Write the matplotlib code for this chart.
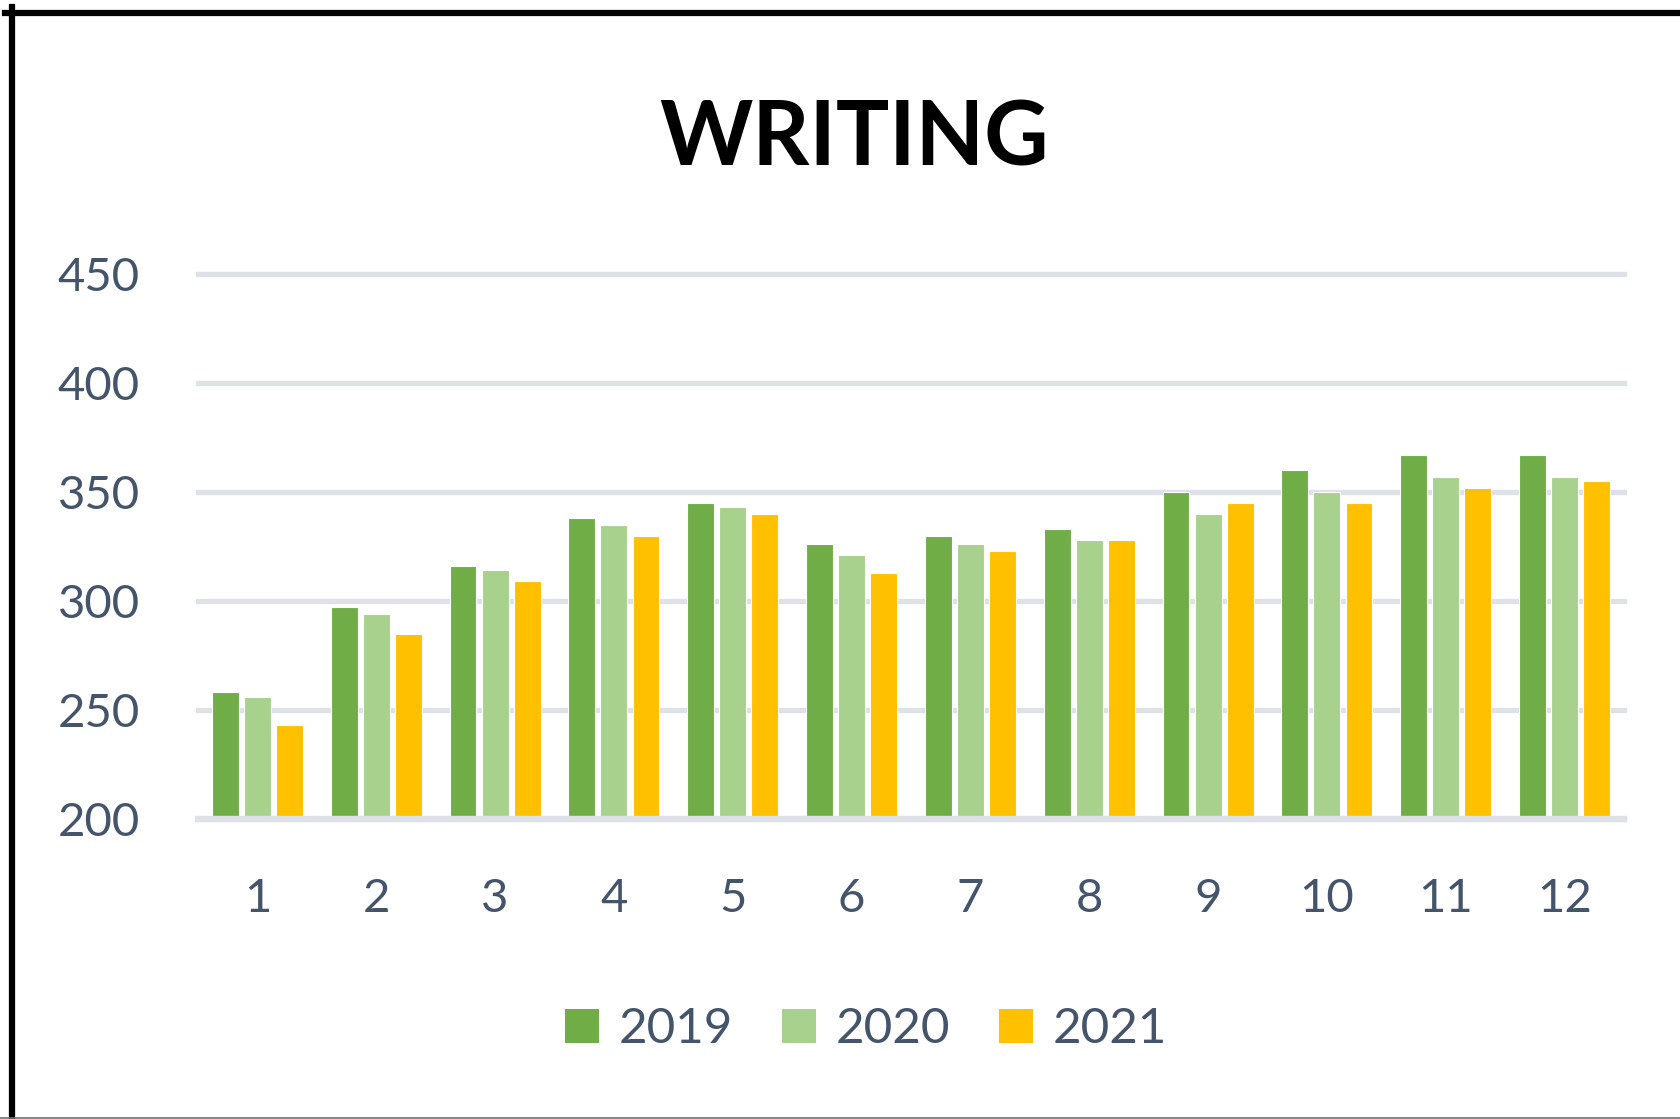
import matplotlib
matplotlib.use("Agg")
import matplotlib.pyplot as plt
import numpy as np
from matplotlib.patches import Patch
from matplotlib.lines import Line2D

categories = ["1", "2", "3", "4", "5", "6", "7", "8", "9", "10", "11", "12"]
series_names = ["2019", "2020", "2021"]
values_2019 = [258, 297, 316, 338, 345, 326, 330, 333, 350, 360, 367, 367]
values_2020 = [256, 294, 314, 335, 343, 321, 326, 328, 340, 350, 357, 357]
values_2021 = [243, 285, 309, 330, 340, 313, 323, 328, 345, 345, 352, 355]
y_ticks = [200, 250, 300, 350, 400, 450]
title = "WRITING"

colors = ["#70AD47", "#A9D18E", "#FFC000"]
text_color = "#44546A"
grid_color = "#DEE2E7"

plt.rcParams['font.family'] = ['Lato', 'DejaVu Sans']

W, H = 1680, 1119
fig = plt.figure(figsize=(W / 100, H / 100), dpi=100)
ax = fig.add_axes([198 / W, 1 - 818.7 / H, (1624 - 198) / W, (818.7 - 274.2) / H])

x = np.arange(len(categories))
bw = 0.227
step = 0.27
for i, (vals, c) in enumerate(zip([values_2019, values_2020, values_2021], colors)):
    ax.bar(x + (i - 1) * step, np.array(vals) - 200, bottom=200, width=bw, color=c,
           edgecolor="white", linewidth=0.8, zorder=2)

ax.set_xlim(-0.5, len(categories) - 0.5)
ax.set_ylim(200, 450)
ax.set_yticks(y_ticks)
ax.set_xticks(x)
ax.set_xticklabels(categories)
ax.tick_params(axis="both", length=0, labelsize=34, labelcolor=text_color)
ax.tick_params(axis="y", pad=42)
ax.tick_params(axis="x", pad=43)
for s in ax.spines.values():
    s.set_visible(False)
ax.yaxis.grid(True, color=grid_color, linewidth=3.8, zorder=0)
ax.set_axisbelow(True)
for l in ax.get_ygridlines():
    l.set_clip_on(False)
ax.axhline(200, color=grid_color, linewidth=4.6, zorder=3, clip_on=False)

fig.text(854 / W, 1 - 139 / H, title, ha="center", va="center", fontsize=64,
         fontweight="bold", color="black")

handles = [Patch(facecolor=c, edgecolor="none") for c in colors]
leg = fig.legend(handles, series_names, loc="center", bbox_to_anchor=(866 / W, 1 - 1029 / H),
                 ncol=3, frameon=False, fontsize=35.5, handlelength=0.68, handleheight=0.68,
                 handletextpad=0.4, columnspacing=1.0, labelcolor=text_color)

# frame lines
fig.add_artist(Line2D([5 / W, 1], [1 - 13 / H, 1 - 13 / H], color="black", linewidth=4.5,
                      transform=fig.transFigure))
fig.add_artist(Line2D([12 / W, 12 / W], [1 - 7 / H, 0], color="black", linewidth=4.5,
                      transform=fig.transFigure))
fig.add_artist(Line2D([0, 1], [1 / H, 1 / H], color="#707070", linewidth=1.2,
                      transform=fig.transFigure))

fig.savefig("out.png", dpi=100, facecolor="white")
